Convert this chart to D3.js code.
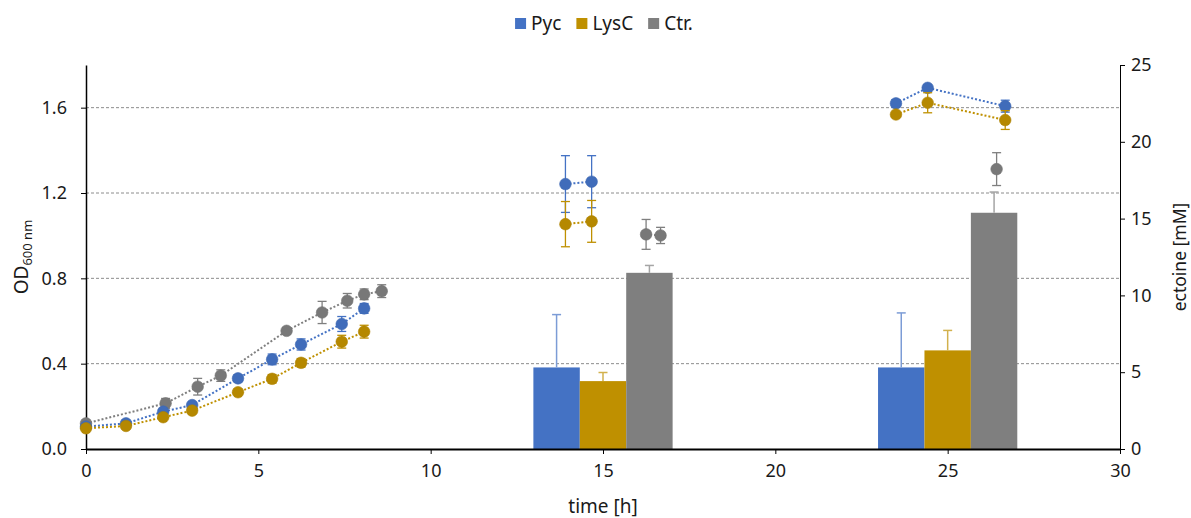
<!DOCTYPE html>
<html>
<head>
<meta charset="utf-8">
<script src="https://cdn.jsdelivr.net/npm/d3@7"></script>
<style>
  body { margin: 0; background: #fff; }
  svg { display: block; }
  text { font-family: "Noto Sans", sans-serif; fill: #1a1a1a; }
</style>
</head>
<body>
<svg id="chart" width="1191" height="518"></svg>
<script>
// ---- data ----
const seriesNames = ["Pyc", "LysC", "Ctr."];
const seriesColors = ["#4472C4", "#BF9000", "#7F7F7F"];

// OD600 time courses; null separates the three sampling phases
const pycTime  = [0, 1.16, 2.24, 3.08, 4.41, 5.40, 6.24, 7.42, 8.07, null, 13.91, 14.67, null, 23.50, 24.42, 26.67];
const pycOD    = [0.105, 0.12, 0.175, 0.206, 0.331, 0.42, 0.49, 0.586, 0.659, null, 1.242, 1.253, null, 1.62, 1.693, 1.607];
const pycODErr = [0.008, 0.008, 0.012, 0.012, 0.016, 0.025, 0.026, 0.035, 0.023, null, 0.133, 0.122, null, 0.018, 0.014, 0.028];

const lysCTime  = [0, 1.16, 2.24, 3.08, 4.41, 5.40, 6.24, 7.42, 8.07, null, 13.91, 14.67, null, 23.50, 24.42, 26.67];
const lysCOD    = [0.097, 0.108, 0.149, 0.180, 0.266, 0.329, 0.404, 0.503, 0.55, null, 1.054, 1.067, null, 1.568, 1.623, 1.542];
const lysCODErr = [0.008, 0.008, 0.01, 0.01, 0.012, 0.02, 0.02, 0.03, 0.03, null, 0.106, 0.098, null, 0.012, 0.047, 0.044];

const ctrTime  = [0, 2.31, 3.24, 3.91, 5.82, 6.85, 7.58, 8.07, 8.58, null, 16.25, 16.67, null, 26.42];
const ctrOD    = [0.12, 0.214, 0.292, 0.344, 0.554, 0.640, 0.695, 0.725, 0.740, null, 1.006, 1.001, null, 1.312];
const ctrODErr = [0.01, 0.023, 0.039, 0.027, 0.015, 0.052, 0.034, 0.025, 0.03, null, 0.07, 0.038, null, 0.077];

// ectoine titres (mM) at the two harvest points
const barTimes       = [15, 25];
const pycEctoine     = [5.31, 5.31];
const pycEctoineErr  = [3.44, 3.55];
const lysCEctoine    = [4.42, 6.42];
const lysCEctoineErr = [0.56, 1.30];
const ctrEctoine     = [11.47, 15.38];
const ctrEctoineErr  = [0.48, 1.35];

// axis ticks
const timeTicks = [0, 5, 10, 15, 20, 25, 30];
const odTicks = [0, 0.4, 0.8, 1.2, 1.6];
const ectoineTicks = [0, 5, 10, 15, 20, 25];

// ---- build series tables ----
const odSeries = [
  { name: "Ctr.", color: seriesColors[2], t: ctrTime, v: ctrOD, e: ctrODErr },
  { name: "Pyc", color: seriesColors[0], t: pycTime, v: pycOD, e: pycODErr },
  { name: "LysC", color: seriesColors[1], t: lysCTime, v: lysCOD, e: lysCODErr }
].map(s => ({ ...s, points: s.t.map((t, i) => ({ t, v: s.v[i], e: s.e[i] })) }));

const barValues = [pycEctoine, lysCEctoine, ctrEctoine];
const barErrors = [pycEctoineErr, lysCEctoineErr, ctrEctoineErr];
const bars = [];
barTimes.forEach((t, gi) => {
  seriesNames.forEach((name, si) => {
    bars.push({ t, name, color: seriesColors[si], v: barValues[si][gi], e: barErrors[si][gi] });
  });
});

// ---- scales ----
const svg = d3.select("#chart");
const plotLeft = 86, plotRight = 1120, plotTop = 65, plotBottom = 449;

const x = d3.scaleLinear().domain([0, 30]).range([plotLeft, plotRight]);
const yL = d3.scaleLinear().domain([0, 1.8]).range([plotBottom, plotTop]);
const yR = d3.scaleLinear().domain([0, 25]).range([plotBottom, plotTop]);
const groupWidth = 4.04; // hours spanned by one bar cluster
const inner = d3.scaleBand().domain(seriesNames).range([-groupWidth / 2, groupWidth / 2]).padding(0);

// ---- gridlines ----
svg.append("g")
  .selectAll("line")
  .data(odTicks.filter(d => d > 0))
  .join("line")
  .attr("x1", plotLeft).attr("x2", plotRight)
  .attr("y1", d => yL(d)).attr("y2", d => yL(d))
  .attr("stroke", "#8c8c8c")
  .attr("stroke-width", 1)
  .attr("stroke-dasharray", "3,2");

// ---- ectoine bars ----
const barG = svg.append("g");
barG.selectAll("rect")
  .data(bars)
  .join("rect")
  .attr("x", d => x(d.t + inner(d.name)))
  .attr("width", d => x(d.t + inner(d.name) + inner.bandwidth()) - x(d.t + inner(d.name)))
  .attr("y", d => yR(d.v))
  .attr("height", d => yR(0) - yR(d.v))
  .attr("fill", d => d.color);

const barErrG = barG.selectAll("g.err")
  .data(bars)
  .join("g")
  .attr("class", "err")
  .attr("stroke", d => d3.interpolateRgb(d.color, "#ffffff")(0.3))
  .attr("stroke-width", 1.5);
barErrG.append("line")
  .attr("x1", d => x(d.t + inner(d.name) + inner.bandwidth() / 2))
  .attr("x2", d => x(d.t + inner(d.name) + inner.bandwidth() / 2))
  .attr("y1", d => yR(d.v))
  .attr("y2", d => yR(d.v + d.e));
barErrG.append("line")
  .attr("x1", d => x(d.t + inner(d.name) + inner.bandwidth() / 2) - 4.5)
  .attr("x2", d => x(d.t + inner(d.name) + inner.bandwidth() / 2) + 4.5)
  .attr("y1", d => yR(d.v + d.e))
  .attr("y2", d => yR(d.v + d.e));

// ---- axes ----
const axisLeftG = svg.append("g")
  .attr("transform", `translate(${plotLeft},0)`)
  .call(d3.axisLeft(yL).tickValues(odTicks).tickFormat(d3.format(".1f")).tickSize(5).tickSizeOuter(0).tickPadding(14));
axisLeftG.select(".domain").attr("stroke", "#000").attr("stroke-width", 1.5);

const axisRightG = svg.append("g")
  .attr("transform", `translate(${plotRight},0)`)
  .call(d3.axisRight(yR).tickValues(ectoineTicks).tickSize(5).tickSizeOuter(0).tickPadding(6));
axisRightG.select(".domain").attr("stroke", "#000").attr("stroke-width", 1);

const axisBottomG = svg.append("g")
  .attr("transform", `translate(0,${plotBottom})`)
  .call(d3.axisBottom(x).tickValues(timeTicks).tickSize(5).tickSizeOuter(0).tickPadding(10));
axisBottomG.select(".domain").attr("stroke", "#000").attr("stroke-width", 2);

[axisLeftG, axisRightG, axisBottomG].forEach(g => {
  g.selectAll(".tick line").attr("stroke", "#000");
  g.selectAll(".tick text").style("font-family", "'Noto Sans', sans-serif").style("font-size", "18px").attr("fill", "#1a1a1a");
});

// ---- OD lines, error bars and markers ----
const line = d3.line()
  .defined(d => d.v !== null)
  .x(d => x(d.t))
  .y(d => yL(d.v));

const odG = svg.append("g");
odSeries.forEach(s => {
  const g = odG.append("g");
  g.append("path")
    .datum(s.points)
    .attr("d", line)
    .attr("fill", "none")
    .attr("stroke", s.color)
    .attr("stroke-width", 2)
    .attr("stroke-dasharray", "2,2");

  const pts = s.points.filter(d => d.v !== null);
  const eb = g.append("g").attr("stroke", s.color).attr("stroke-width", 1.3);
  eb.selectAll("line.v").data(pts).join("line").attr("class", "v")
    .attr("x1", d => x(d.t)).attr("x2", d => x(d.t))
    .attr("y1", d => yL(d.v - d.e)).attr("y2", d => yL(d.v + d.e));
  eb.selectAll("line.top").data(pts).join("line").attr("class", "top")
    .attr("x1", d => x(d.t) - 4.5).attr("x2", d => x(d.t) + 4.5)
    .attr("y1", d => yL(d.v + d.e)).attr("y2", d => yL(d.v + d.e));
  eb.selectAll("line.bot").data(pts).join("line").attr("class", "bot")
    .attr("x1", d => x(d.t) - 4.5).attr("x2", d => x(d.t) + 4.5)
    .attr("y1", d => yL(d.v - d.e)).attr("y2", d => yL(d.v - d.e));

  g.selectAll("circle").data(pts).join("circle")
    .attr("cx", d => x(d.t))
    .attr("cy", d => yL(d.v))
    .attr("r", 5.8)
    .attr("fill", d3.color(s.color).darker(0.15))
    .attr("stroke", d3.color(s.color).darker(0.3))
    .attr("stroke-width", 0.6);
});

// ---- axis titles ----
svg.append("text")
  .attr("x", x(15)).attr("y", 513)
  .attr("text-anchor", "middle")
  .style("font-size", "19px")
  .text("time [h]");

svg.append("text")
  .attr("transform", `translate(1186,${(plotTop + plotBottom) / 2}) rotate(-90)`)
  .attr("text-anchor", "middle")
  .style("font-size", "17.5px")
  .text("ectoine [mM]");

const odTitle = svg.append("text")
  .attr("transform", `translate(28,${(plotTop + plotBottom) / 2}) rotate(-90)`)
  .attr("text-anchor", "middle")
  .style("font-size", "19px");
odTitle.append("tspan").text("OD");
odTitle.append("tspan").attr("dy", 4).style("font-size", "13px").text("600 nm");

// ---- legend ----
const legend = svg.append("g");
let cursor = 0;
seriesNames.forEach((name, i) => {
  const g = legend.append("g");
  g.append("rect").attr("x", 0).attr("y", -12).attr("width", 11).attr("height", 11).attr("fill", seriesColors[i]);
  const t = g.append("text").attr("x", 16).attr("y", 0).style("font-size", "19px").text(name);
  const w = 16 + t.node().getComputedTextLength();
  g.attr("transform", `translate(${cursor},0)`);
  cursor += w + 15;
});
const legendWidth = cursor - 15;
legend.attr("transform", `translate(${604 - legendWidth / 2},30)`);
</script>
</body>
</html>
